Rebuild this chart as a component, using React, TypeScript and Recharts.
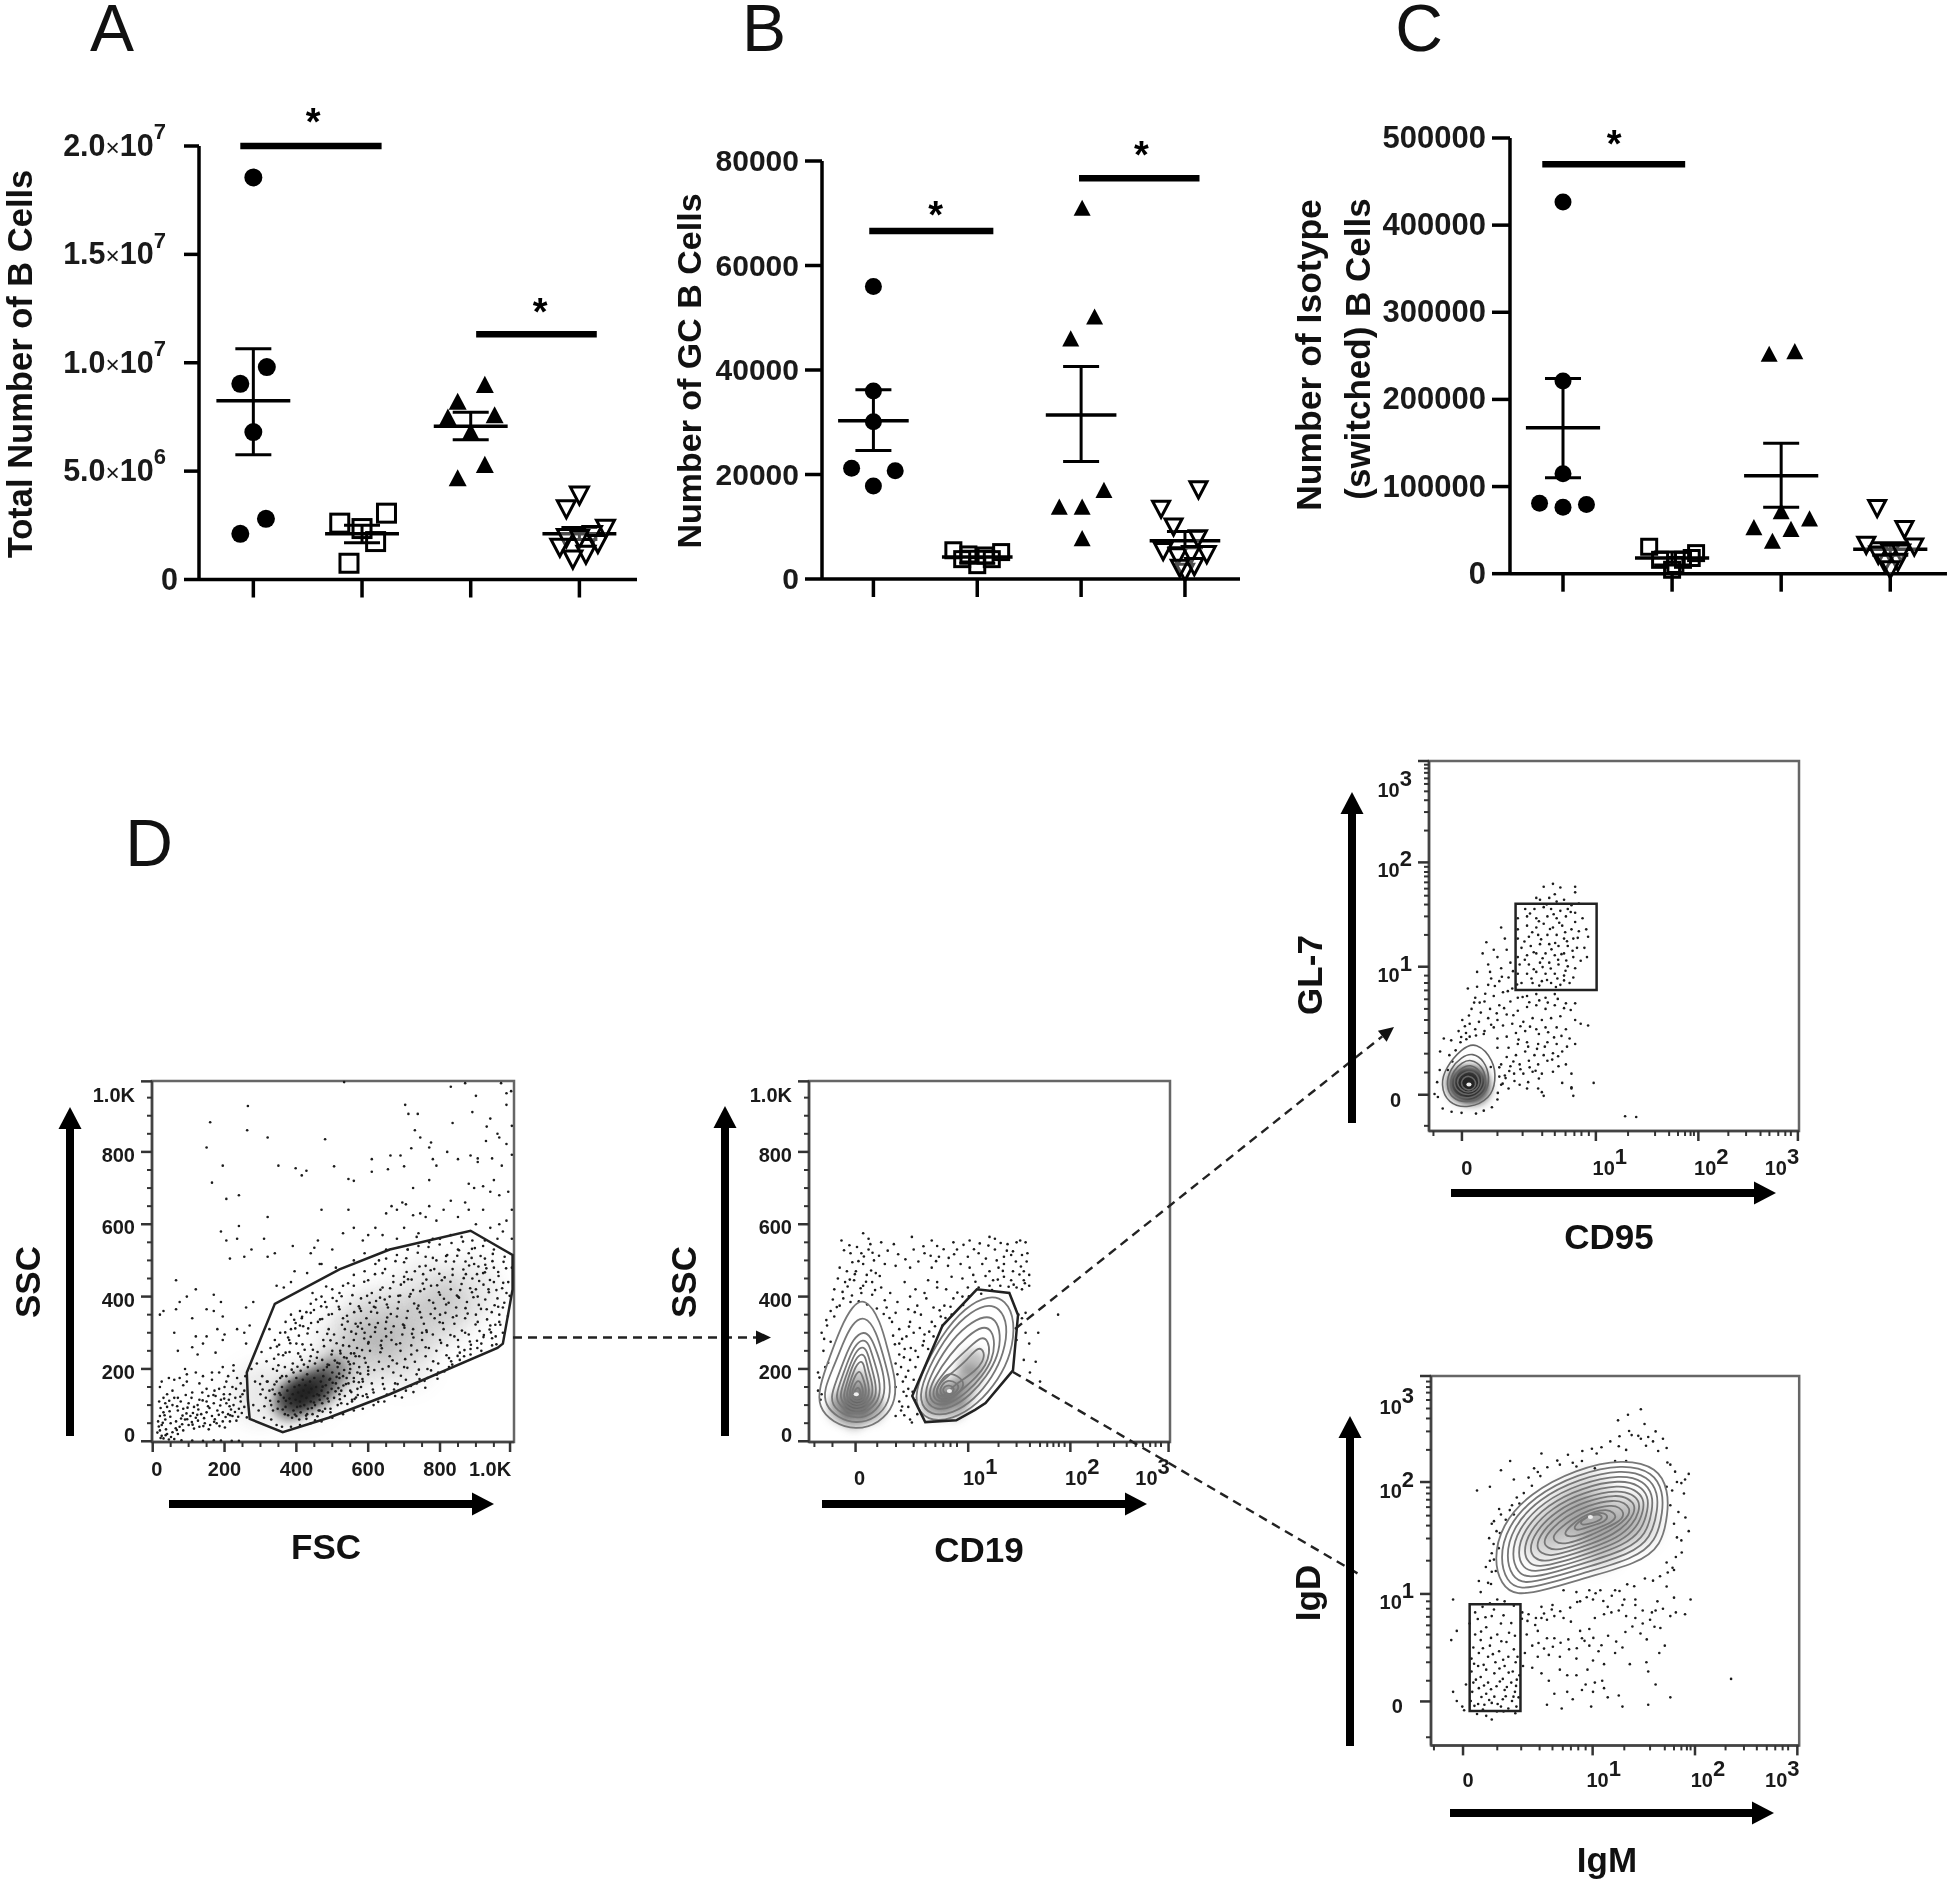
import React from "react";
import {ErrorBar, ReferenceArea, Scatter, ScatterChart, XAxis, YAxis} from "recharts";

const FONT = '"Liberation Sans", Arial, sans-serif';

// panel A values, flat x,y lists
const aCircles = [1, 1.855e7, 1.124, 0.98e7, 0.88, 0.903e7, 1, 0.68e7, 1.116, 0.28e7, 0.88, 0.211e7];
const aSquares = [1.795, 0.26e7, 2, 0.235e7, 2.225, 0.306e7, 2.125, 0.175e7, 1.88, 0.075e7];
const aTriangles = [3.13, 0.894e7, 2.88, 0.816e7, 2.79, 0.743e7, 3.22, 0.754e7, 3, 0.676e7, 3.13, 0.525e7, 2.88, 0.463e7];
const aInverted = [4, 0.393e7, 3.88, 0.33e7, 4.24, 0.24e7, 4.12, 0.211e7, 3.88, 0.197e7, 4, 0.193e7, 3.82, 0.153e7, 4.17, 0.17e7, 4.06, 0.12e7, 3.94, 0.098e7];
const aMeans = [8.25e6, 2.11e6, 7.07e6, 2.11e6];
const aSemDown = [2.5e6, 0.41e6, 0.62e6, 0.27e6];
const aSemUp = [2.4e6, 0.39e6, 0.65e6, 0.29e6];
const aSigBars = [[0.88, 2.18, 2e7], [3.05, 4.16, 1.131e7]];
const aStars = [1.55, 2e7, 3.64, 1.131e7];
const aTicks = [0, 5e6, 1e7, 1.5e7, 2e7];
const aTickLabels = ["0", "5.0×10|6", "1.0×10|7", "1.5×10|7", "2.0×10|7"];

// panel B
const bCircles = [1, 56000, 1, 36000, 1, 30100, 0.79, 21200, 1.21, 20700, 1, 17800];
const bSquares = [1.77, 5500, 1.915, 4700, 2.08, 4500, 2.23, 5150, 1.855, 3800, 2, 2650, 2.14, 3800];
const bTriangles = [3.01, 70800, 3.13, 50000, 2.9, 45800, 3.22, 16800, 2.79, 13600, 3.01, 13600, 3.01, 7570];
const bInverted = [4.13, 17300, 3.77, 13600, 3.89, 10200, 4.125, 7950, 3.79, 5500, 4.21, 4900, 3.93, 4500, 4.06, 4900, 4, 1500, 4.09, 2600, 3.95, 2300];
const bMeans = [30300, 4200, 31400, 7340];
const bSemDown = [5700, 1200, 8900, 1340];
const bSemUp = [5900, 1100, 9250, 1760];
const bSigBars = [[0.96, 2.155, 66600], [2.98, 4.14, 76700]];
const bStars = [1.6, 66600, 3.58, 76700];
const bTicks = [0, 20000, 40000, 60000, 80000];

// panel C
const cCircles = [1, 426500, 1, 221000, 1, 114800, 0.785, 80800, 1, 76200, 1.215, 79400];
const cSquares = [1.79, 30900, 1.89, 15900, 2.03, 10000, 2.1, 15900, 2.22, 23600, 2.18, 18000, 2, 4500];
const cTriangles = [2.89, 250900, 3.125, 254000, 3, 70300, 3.26, 62000, 3.09, 50000, 2.75, 52000, 2.92, 36300];
const cInverted = [3.88, 76200, 4.13, 52000, 3.78, 34000, 4.22, 32000, 3.89, 22700, 4, 25000, 4.1, 25000, 3.95, 13600, 4.07, 14500, 4, 5900];
const cMeans = [167400, 18000, 112500, 28100];
const cSemDown = [57400, 8000, 36300, 6800];
const cSemUp = [56600, 7000, 37200, 7300];
const cSigBars = [[0.81, 2.12, 470000]];
const cStars = [1.47, 470000];
const cTicks = [0, 100000, 200000, 300000, 400000, 500000];

// FSC / SSC dots
const fscSparse = [160,882,265,927,263,860,320,840,150,812,195,762,165,715,350,762,398,755,415,735,428,748,480,835,505,760,533,993,545,725,560,720,610,780,610,745,655,752,662,790,690,790,700,760,712,905,703,930,720,810,730,860,738,905,745,840,770,812,775,826,780,780,790,762,770,722,725,700,850,780,835,880,820,800,870,990,885,790,905,782,880,712,830,980,900,955,890,910,930,870,928,830,945,782,950,722,960,850,970,990,985,962,985,930,965,840,972,762,1000,792,998,968,985,822,1000,872,940,892,905,772,240,680,205,670,470,640,545,640,320,620,190,580,240,595,205,555,235,560,310,560,255,510,215,505,275,530,320,510,390,540,340,520,440,520,460,555,500,530,465,490,450,535,530,575,560,590,585,555,600,570,620,590,640,570,650,630,665,650,680,640,695,660,705,655,725,625,745,630,760,620,770,650,790,610,810,640,830,665,850,620,870,660,880,640,895,700,920,705,940,690,990,690,965,680,920,640,900,600,940,590,985,610,1000,640,965,600,780,560,740,575,700,590,650,530,680,560,710,530,735,565,65,445,75,385,95,400,120,420,170,405,65,365,150,365,170,360,190,385,195,345,20,350,30,360,110,340,60,300,70,250,120,290,125,240,90,200,180,310,195,280,235,310,260,370,280,385,255,300,270,320,260,270,225,210,200,295,150,290,140,270,110,260,175,245,345,430,365,425,385,440,395,470,430,465,470,490,560,500,590,520,510,480,630,500,960,560,925,555,1000,560,975,580];
const fscDebris = [20,150,25,165,40,130,55,140,60,170,70,120,85,155,95,165,110,135,130,160,150,145,165,170,175,125,185,190,195,205,210,180,225,195,235,175,245,160,255,140,200,150,215,130,230,120,245,110,255,95,240,90,225,100,205,105,190,115,170,105,150,110,130,115,115,95,100,105,85,90,70,85,55,100,40,95,30,80,20,70,15,55,25,45,35,60,50,50,65,55,75,40,90,60,105,70,120,65,135,75,150,80,165,70,180,85,195,80,210,75,222,70,238,68,215,55,195,55,178,50,160,45,145,50,130,40,115,35,100,45,85,30,70,20,55,25,40,20,25,15,20,30,30,8,45,5,60,6,80,3,110,2,140,1,170,3,190,2,220,1,240,1,185,145,205,165,165,190,140,180,120,190,95,185,75,175,45,175,30,120,18,110,250,130,232,145,258,180,222,150,212,115,198,130,172,140,155,125,138,135,125,100,108,120,92,128,78,110,60,120,46,112,35,105,22,92,33,72,47,83,68,97,83,71,97,93,112,78,127,88,143,64,158,92,173,61,188,99,203,67,218,88,233,57,248,78,262,66,244,123,229,81,214,97,199,118,184,73,169,128,154,97,139,113,124,73,109,53,94,77,79,63,64,36,49,68,37,33,28,51,17,41,13,24,22,9,36,17,51,12,67,31,82,47,96,61,111,46,126,57,141,42,156,33,171,54,186,42,201,38,216,72];
const fscGate = [280,100,295,85,310,65,330,60,345,45,360,40,300,130,285,165,275,200,290,215,305,180,320,165,335,200,350,240,340,280,325,310,355,300,370,330,385,350,410,360,440,380,470,400,500,420,530,430,560,460,590,470,620,490,650,505,680,515,710,530,740,540,770,550,800,560,830,570,860,565,890,555,920,540,950,530,980,510,1000,480,990,440,985,410,975,370,965,330,955,290,945,265,915,250,885,240,855,225,825,205,795,190,765,175,735,160,705,140,675,125,645,110,615,100,585,90,560,85,530,75,500,65,470,55,440,50,410,45,385,40,400,70,430,75,465,85,495,90,525,105,555,115,585,125,615,135,645,145,675,160,705,170,735,185,765,200,795,215,825,230,855,245,885,255,915,270,945,285,975,300,965,350,940,320,910,305,880,295,850,280,820,265,790,250,760,235,730,220,700,205,670,190,640,175,610,160,580,150,550,140,520,130,540,175,570,190,600,205,630,220,660,235,690,250,720,265,750,280,780,295,810,310,840,325,870,340,900,350,930,365,960,395,935,420,905,400,875,385,845,370,815,355,785,340,755,325,725,310,695,295,665,280,635,265,605,250,575,235,545,220,515,205,500,250,530,265,560,280,590,300,620,315,650,330,680,345,710,360,740,375,770,390,800,405,830,420,860,435,890,450,920,465,950,480,925,505,895,490,865,475,835,460,805,445,775,430,745,415,715,400,685,385,655,370,625,355,595,340,565,325,535,310,505,295,475,280,460,330,490,350,520,365,550,380,580,395,610,410,640,425,670,440,700,455,730,470,760,485,790,500,820,515,850,530,880,520,760,510,700,495,640,465,600,445,560,430,520,410,480,385,440,355,410,320,385,310,445,410,415,340,380,280,400,270,370,245,350,210,360,180,520,175,560,215,600,270,650,290,700,320,750,300,800,350,850,400,900,420,950,440,700,440,660,400,620,370,580,360,530,340,490,310,870,300,905,330,840,290,800,280,760,260,720,240,680,215,640,200,600,185,560,165];
const fscGateExtra = [463,127,487,212,512,271,538,158,553,303,571,128,577,367,593,217,607,289,613,143,622,388,634,246,641,158,648,311,657,207,663,352,672,143,678,268,684,402,691,181,697,323,703,227,711,448,719,153,722,297,728,381,736,251,741,198,748,342,752,436,757,167,763,302,769,258,774,473,781,221,786,367,791,184,797,412,803,272,808,327,813,453,818,238,824,383,829,294,834,212,839,497,846,347,851,261,856,418,861,306,867,235,872,462,877,353,883,276,888,507,893,398,899,323,904,258,909,443,914,366,921,288,926,488,931,337,936,412,942,301,947,518,952,376,957,268,963,457,968,322,973,423,979,383,984,478,989,346,994,402,449,107,473,151,494,173,517,147,533,232,548,189,562,117,569,258,584,172,598,122,603,323,617,197,628,109,637,278,652,129,668,224,682,158,694,121,709,203,726,136,743,172,759,148,775,196,793,173,812,193,831,221,849,236,868,252,886,267,903,278,922,294,938,309,954,322,527,322,541,347,556,404,574,373,589,441,604,383,619,462,633,397,647,476,661,423,676,498,691,433,706,506,721,447,738,521,753,462,768,537,784,476,799,544,816,497,832,548,848,513,864,552,881,486,897,534,913,512,929,478,946,498,962,468,977,496,417,268,431,298,446,253,458,302,472,338,486,297,499,352,512,388,526,401,544,437,381,247,397,312,411,234,428,357,441,327,455,392,469,373,483,428,334,143,317,221,303,247,328,258,346,262,363,238,377,287,394,336,407,292,419,318];
const fscDense = [523,243,547,263,566,297,583,311,601,274,619,302,638,257,653,342,671,318,689,271,707,341,726,287,744,357,762,307,781,383,799,329,817,378,836,343,853,397,871,368,889,412,908,377,926,392,944,357,962,372,514,217,532,287,552,243,571,317,589,284,608,358,627,327,646,392,664,301,682,367,701,314,718,407,737,367,756,421,774,352,792,431,811,394,829,441,847,403,866,451,884,423,903,462,921,433,939,446,957,418,976,438,543,331,561,357,579,327,597,402,616,372,634,419,652,378,670,457,689,403,707,468,725,418,743,483,762,447,780,507,798,463,817,512,835,476,853,528,871,497,889,532,907,483,925,467,405,243,423,253,441,267,459,247,477,263,495,279,338,228,352,267,369,301,383,271,398,327,416,344,433,312,449,363,466,337,484,371,501,396,518,372];
const fscCore = [340,130,350,110,360,150,365,120,370,95,375,140,380,165,385,105,390,130,392,85,395,150,398,115,400,175,402,95,405,135,408,155,410,110,412,80,415,125,418,170,420,140,422,100,425,155,428,120,430,185,432,90,435,135,438,165,440,110,442,145,445,75,448,125,450,175,452,100,455,150,458,130,460,195,462,85,465,115,468,165,470,140,472,105,475,180,478,125,480,90,482,155,485,205,488,135,490,110,492,170,495,80,498,145,500,190,505,120,510,160,515,100,520,215,525,140,530,180,535,125,540,230,545,160,550,200,555,110,560,175,565,235,570,145,575,205,585,165,590,230,595,130,600,195,355,175,345,165,330,100,325,140,315,120,335,85,318,165,348,90,368,75,388,65,408,60,428,62,452,58,372,180,392,190,412,195,432,205,452,215,472,225,498,240,522,250,415,225,440,235,390,215,368,205,346,195,362,88,377,72,353,133,339,157,327,112,311,97,306,143,299,158,387,198,403,206,421,212,437,222,457,231,476,197,491,211,507,223,519,187,533,197,549,213,561,243,578,187,583,252,509,138,521,116,531,154,542,103,553,136,566,121,574,163,512,178,501,162,487,118,473,82,459,69,443,92,427,71,411,97,396,74,381,118,371,112,356,128];
const fscCoreShade = [420,140,440,130,405,125,450,160,390,120,470,150,500,190,380,100];
const fscBandShade = [420,140,520,190,600,240,680,290,760,330,820,360,640,350,760,420,540,280,300,130,880,420,700,230,600,320];
const fscGatePath = [262,190,265,115,270,62,362,25,490,65,660,130,960,258,975,270,1002,420,1002,515,885,582,660,530,520,475,340,380];

// CD19 / SSC dots
const cd19Dots = [90,555,150,575,165,560,170,545,200,550,165,530,145,520,115,520,235,545,285,565,340,555,355,540,400,550,445,555,500,565,515,560,575,550,550,545,585,555,515,530,565,525,600,550,290,530,320,520,360,510,410,530,440,510,470,520,490,505,520,500,540,510,560,515,590,515,605,520,120,495,150,490,180,500,210,490,240,485,280,480,340,480,385,485,420,490,445,480,480,490,500,470,525,480,540,490,565,470,595,470,610,460,85,480,105,470,130,470,160,460,185,465,80,450,100,440,125,445,150,430,175,440,200,425,225,410,265,440,295,420,330,445,355,440,395,455,425,450,455,460,510,445,540,455,560,445,595,445,610,430,590,420,575,425,70,420,95,395,115,385,145,410,175,405,210,390,245,385,280,400,320,410,355,425,380,420,440,425,470,425,500,430,530,430,60,360,85,375,215,370,240,355,275,365,300,375,325,395,345,370,375,375,400,395,425,400,50,320,70,345,230,330,250,310,280,330,310,350,340,330,365,345,395,350,35,300,40,250,60,275,250,270,270,290,290,300,320,295,345,290,370,320,240,215,250,240,265,255,280,225,295,250,315,265,330,255,245,185,255,205,275,195,295,205,25,190,45,205,240,150,260,165,275,145,290,170,250,110,270,125,255,85,275,95,300,75,240,70,280,60,25,140,35,130,32,115,595,225,600,300,690,350,612,190,628,220,640,165,580,350,600,355,590,340,635,300,575,280,610,270];
const cd19Extra = [113,447,127,462,137,498,143,423,158,441,172,472,183,418,196,457,93,413,107,428,119,403,138,387,161,378,188,367,207,352,223,341,233,292,238,268,258,283,277,317,293,357,307,313,318,277,333,303,349,318,362,362,378,341,392,372,411,411,427,377,443,401,461,441,477,408,489,457,507,418,523,447,537,471,553,427,567,433,583,461,598,437,97,528,112,542,133,537,152,511,176,521,194,513,218,527,247,517,267,503,303,497,317,539,337,513,352,498,373,531,387,507,402,517,428,543,457,531,473,547,497,541,531,548,548,527,573,497,587,483,603,497,48,335,66,392,77,371,42,283,53,217,29,176,263,232,282,258,302,233,268,178,287,137,296,113,264,72,285,52,262,137,258,96];
const cd19GatePath = [322,53,286,125,370,320,465,420,555,410,579,349,565,196,489,106,460,87,408,58];
const cd19Shade = [131,125,100,110,162,110,131,90,135,160,90,88,172,88,125,70,389,135,355,118,420,130,350,100,440,175,400,98,455,215];

const cd19LeftContours = [
  [155,398,120,375,88,315,58,235,28,150,26,95,65,52,130,30,195,50,238,100,242,165,220,245,198,335],
  [155,350,118,325,93,268,68,205,42,145,44,100,80,65,130,48,185,63,224,108,226,165,205,238,187,303],
  [152,306,122,284,98,228,76,168,58,120,74,84,130,60,178,75,210,118,210,178,188,248,172,288],
  [150,284,125,264,104,212,86,162,72,120,90,92,130,72,170,86,198,120,196,172,177,232,166,270],
  [148,264,128,247,110,202,94,156,84,122,100,98,130,82,164,94,188,124,184,166,170,216,161,250],
  [147,244,130,230,114,192,102,152,94,122,106,104,130,92,158,101,178,126,175,163,163,201,157,232],
  [145,224,130,210,118,177,108,147,103,124,113,109,131,100,153,107,168,128,165,159,156,189,152,212],
  [140,197,128,182,118,157,112,136,115,118,131,109,149,113,159,130,156,156,148,180],
  [136,172,124,152,118,133,124,120,133,116,147,122,151,136,146,157],
  [134,151,124,136,128,124,136,121,144,130,141,144],
];
const cd19RightContours = [
  [498,404,545,392,572,332,560,240,526,172,468,102,398,60,326,55,290,105,306,177,366,294,434,372],
  [490,380,528,370,552,322,540,243,509,178,458,115,398,76,336,70,303,112,318,175,373,282,434,349],
  [488,348,517,338,532,296,524,235,493,180,447,127,395,92,347,85,317,118,332,175,384,267,439,323],
  [482,320,507,307,515,270,508,225,480,180,439,136,392,104,355,97,328,124,343,170,391,242,440,292],
  [478,292,497,277,501,245,490,210,466,180,426,144,390,115,360,106,339,127,353,165,397,217,442,257],
  [470,264,487,246,482,220,461,195,426,170,396,150,372,120,350,130,360,161,400,192,440,227],
  [385,192,421,176,432,155,411,129,385,113,359,116,350,135,364,166],
  [385,171,411,161,417,145,396,127,375,123,361,135,367,156],
  [388,156,403,148,399,135,382,129,369,138,374,151],
];

// CD95 / GL-7 dots
const gl7Dots = [310,660,335,668,355,658,395,660,340,640,395,645,290,630,300,625,325,630,345,620,365,625,385,610,405,615,260,600,285,600,310,605,330,600,355,595,375,600,395,590,415,575,240,575,265,580,290,575,320,580,345,575,370,580,395,565,425,545,240,545,265,555,290,550,310,560,335,550,360,555,385,545,405,540,430,525,240,520,270,525,295,530,320,530,345,530,365,520,390,520,420,495,250,495,275,500,300,505,325,505,350,500,375,500,400,495,427,470,240,470,265,475,290,480,315,480,340,475,365,480,390,470,410,460,245,450,270,450,300,455,325,455,350,450,375,445,395,440,240,425,265,425,290,430,315,425,340,425,365,420,390,415,250,400,280,400,305,405,330,400,355,395,380,400,155,510,195,550,145,480,175,490,205,520,160,450,185,470,210,490,130,430,165,430,195,440,220,455,105,385,130,390,160,395,190,405,215,415,125,360,150,350,175,365,200,375,225,385,115,330,140,320,165,330,190,340,220,350,240,360,265,365,290,370,315,360,340,370,90,300,110,290,135,295,160,305,185,300,210,315,240,325,265,335,290,340,315,330,340,340,370,345,395,345,80,270,100,265,125,275,150,270,175,280,200,285,225,290,255,295,280,305,305,300,330,305,355,310,395,300,410,290,430,285,60,245,85,240,110,255,185,250,210,255,235,265,260,270,290,275,315,280,345,280,370,275,40,250,30,215,55,205,185,225,215,225,240,235,265,240,295,235,320,240,345,235,380,250,210,200,235,205,260,215,285,205,310,205,335,210,360,215,395,235,195,180,220,175,245,180,270,190,295,180,320,190,350,175,370,180,385,155,205,150,230,155,255,155,280,160,305,155,335,160,360,130,385,118,195,125,215,115,245,125,265,115,295,115,305,105,310,95,385,115,390,95,445,130,530,40,560,38,15,100,185,85];
const gl7Extra = [273,588,297,567,318,612,337,586,352,563,368,537,383,592,279,537,303,518,327,546,341,508,358,478,373,513,402,522,258,512,283,483,307,467,331,491,349,463,371,461,388,487,259,463,283,437,307,443,329,439,347,412,369,433,277,412,298,393,319,408,343,389,365,407,253,362,271,348,298,353,321,347,348,357,365,332,383,327,227,432,238,396,213,378,197,417,178,392,168,412,152,371,137,347,122,347,108,312,97,283,203,332,183,318,168,287,148,262,127,258,228,313,247,283,273,282,297,262,322,267,338,253,358,257,373,228,242,247,268,228,292,222,313,228,333,193,349,202,228,188,247,167,272,172,288,163,297,142,268,132,231,135,217,162,207,143,199,128,167,173,72,218,87,254,101,248,63,188,51,165,29,165,22,132,24,92,37,61,61,52,88,49,127,47,148,55,170,64,186,103,190,147,190,172];
const gl7GatePath = [234,614,453,614,453,381,234,381];
const gl7Shade = [108,126,96,116,120,136,88,132,125,112];
const gl7Contours = [
  [127,242,176,191,181,135,166,88,108,60,50,74,31,126,45,172,89,223],
  [118,212,150,190,165,145,155,100,108,75,62,85,45,125,58,170,88,200],
  [112,195,145,175,155,140,145,105,108,85,70,95,55,125,66,165,90,185],
  [110,180,138,165,146,135,135,108,108,95,78,105,65,128,74,158,92,172],
  [108,165,130,155,138,130,128,112,106,102,85,112,74,130,82,150],
  [108,150,124,140,128,125,118,112,104,110,90,118,86,132,94,145],
];

// IgM / IgD dots
const igdDots = [105,330,120,360,140,375,165,350,190,330,212,305,120,300,150,320,180,300,205,280,225,260,235,240,115,265,135,285,160,270,185,255,210,240,230,225,110,235,130,250,155,240,175,225,200,215,222,200,240,190,110,200,128,215,150,205,172,195,195,180,218,170,115,170,135,185,155,170,178,160,200,150,228,145,112,145,130,155,150,140,172,132,195,125,220,120,238,130,108,120,128,112,145,110,165,115,190,105,210,100,232,105,125,85,150,80,165,70,70,310,55,285,70,120,85,105,60,145,95,165,90,95,160,385,180,395,200,390,225,378,60,395,130,445,135,415,155,440,165,470,165,520,170,545,178,580,190,625,225,625,240,655,220,650,248,360,265,355,285,345,300,345,315,340,335,350,360,345,380,335,405,310,430,315,445,345,470,355,490,360,510,365,530,350,555,345,575,330,595,340,610,365,630,370,650,350,665,360,690,355,705,395,290,310,315,290,335,290,260,300,275,270,255,250,290,240,320,245,250,215,275,210,300,195,320,175,350,240,375,260,395,235,410,290,430,270,455,255,350,205,370,190,395,190,425,205,440,230,470,220,500,250,520,265,540,220,465,175,445,170,420,165,335,140,370,145,410,150,440,145,470,155,510,135,435,105,480,130,520,105,590,110,315,110,355,100,385,125,610,165,650,130,590,200,585,225,620,250,635,270,660,400,600,360,575,365,555,395,525,395,500,420,460,420,430,420,395,415,360,420,300,375,330,380,405,390,440,395,480,375,520,380,555,380,615,390,640,430,660,475,640,495,665,510,680,555,700,580,660,600,650,650,640,700,655,690,680,710,690,720,700,735,650,760,640,805,630,830,610,850,590,835,570,830,545,840,530,800,510,810,530,770,500,770,445,750,410,770,395,755,350,760,300,790,290,740,280,750,265,725,225,720,215,770,190,745,160,700,125,690,185,640,165,600,160,500,580,870,570,910,535,895,508,880,450,790,385,765,815,180];
const igdExtra = [127,342,148,347,171,368,197,352,218,331,136,308,163,291,191,282,228,297,141,263,168,247,196,232,117,221,143,218,186,208,211,197,233,178,122,178,144,162,163,152,187,173,206,158,231,161,137,131,158,123,181,112,203,133,224,132,141,97,179,92,197,92,229,87,118,107,163,437,176,472,149,483,171,503,184,534,158,561,187,575,171,607,203,611,214,637,233,671,252,683,274,703,297,729,316,753,343,771,372,787,411,797,437,803,463,807,487,823,512,837,538,851,563,838,584,811,603,823,617,797,642,766,663,741,668,713,687,682,672,632,691,617,668,563,681,522,656,481,643,468,622,458,603,446,581,452,552,431,533,436,512,418,491,405,468,391,447,412,423,401,397,388,378,373,351,363,328,368,307,357,283,326,262,337,247,343,292,277,307,262,331,267,352,278,373,287,396,263,417,283,441,291,463,271,481,297,503,281,528,307,547,322,569,303,586,287,607,321,623,318];
const igdGatePath = [105,382,243,382,243,93,105,93];
const igdShade = [380,640,430,610,520,620,300,560,560,600,430,680,450,540,350,600,480,570];
const igdContours = [
  [520,776,617,753,644,688,644,632,627,539,559,492,423,455,316,422,229,404,190,436,171,501,190,595,268,683,394,748],
  [520,762,605,740,630,685,630,635,612,550,548,505,425,470,320,438,240,420,205,445,187,505,205,590,280,675,398,735],
  [518,748,592,728,616,682,616,640,598,560,540,518,428,484,328,454,252,436,220,456,203,510,220,588,292,668,402,722],
  [516,734,580,716,602,678,602,640,585,570,532,530,430,498,336,468,264,452,235,468,218,514,235,585,304,660,406,710],
  [514,720,568,704,590,674,590,640,572,580,524,542,432,510,345,482,278,468,250,480,234,518,250,582,316,652,410,698],
  [512,706,556,692,578,668,578,638,560,590,516,552,434,522,354,496,292,482,266,492,250,522,266,580,328,644,414,686],
  [510,692,546,680,566,662,566,634,548,598,508,562,436,534,362,510,306,496,282,506,266,528,282,578,340,636,418,674],
  [506,680,536,668,554,652,552,628,534,602,498,572,438,546,372,524,322,512,300,520,284,536,300,578,352,628,420,662],
  [500,666,526,656,540,642,538,624,520,604,488,582,438,558,382,538,338,528,318,534,304,548,318,578,366,620,424,650],
  [492,652,512,644,524,630,520,614,500,600,474,588,436,570,392,552,354,544,336,552,330,566,348,586,382,612,428,638],
  [478,640,496,630,504,618,490,604,462,592,432,580,400,568,372,564,360,574,380,596,410,618,440,632],
  [470,630,482,620,472,606,448,598,424,590,400,582,386,586,398,604,425,620,448,630],
  [458,626,468,616,452,606,430,600,410,596,404,604,422,618,440,624],
];

const pairs = (flat: number[]) => {
  const out: {x: number, y: number}[] = [];
  for (let i = 0; i < flat.length; i += 2) out.push({x: flat[i], y: flat[i + 1]});
  return out;
};

const fiftyTicks = [0,50,100,150,200,250,300,350,400,450,500,550,600,650,700,750,800,850,900,950,995];
const cd19XTicks = [15,65,129,189,241,290,323,350,372,392,410,441,525,575,612,640,660,677,692,708,724,800,845,880,905,925,945,960,975,996];
const gl7XTicks = [12,89,185,253,306,340,369,393,412,432,451,538,611,649,673,692,707,716,728,809,857,896,920,944,963,978,997];
const gl7YTicks = [14,98,158,209,265,300,330,356,380,400,420,444,530,580,612,636,655,672,688,700,714,726,812,862,894,918,938,953,968,980,990,1000];
const igdXTicks = [8,87,180,245,295,330,358,380,400,420,439,525,595,635,660,680,695,705,717,800,850,885,912,935,955,970,995];
const igdYTicks = [22,119,175,225,265,300,325,348,370,390,410,500,560,595,622,645,665,682,698,713,800,850,885,912,935,955,970,985,1000];

type TickLabel = {text: string, dx: number, dy: number};

const fscYLabels: Record<number, TickLabel> = {0: {text: "0", dx: 0, dy: -6}, 200: {text: "200", dx: 0, dy: 3}, 400: {text: "400", dx: 0, dy: 3}, 600: {text: "600", dx: 0, dy: 3}, 800: {text: "800", dx: 0, dy: 3}, 995: {text: "1.0K", dx: 0, dy: 14}};
const fscXLabels: Record<number, TickLabel> = {0: {text: "0", dx: 4, dy: 0}, 200: {text: "200", dx: 0, dy: 0}, 400: {text: "400", dx: 0, dy: 0}, 600: {text: "600", dx: 0, dy: 0}, 800: {text: "800", dx: 0, dy: 0}, 995: {text: "1.0K", dx: -20, dy: 0}};
const cd19XLabels: Record<number, TickLabel> = {129: {text: "0", dx: 4, dy: 0}, 441: {text: "10|1", dx: 12, dy: 0}, 724: {text: "10|2", dx: 12, dy: 0}, 996: {text: "10|3", dx: -16, dy: 0}};
const gl7XLabels: Record<number, TickLabel> = {89: {text: "0", dx: 5, dy: 0}, 451: {text: "10|1", dx: 14, dy: 0}, 728: {text: "10|2", dx: 13, dy: 0}, 997: {text: "10|3", dx: -16, dy: 0}};
const gl7YLabels: Record<number, TickLabel> = {98: {text: "0", dx: -11, dy: 5}, 444: {text: "10|1", dx: 0, dy: 8}, 726: {text: "10|2", dx: 0, dy: 8}, 1000: {text: "10|3", dx: 0, dy: 29}};
const igdXLabels: Record<number, TickLabel> = {87: {text: "0", dx: 5, dy: 0}, 439: {text: "10|1", dx: 11, dy: 0}, 717: {text: "10|2", dx: 13, dy: 0}, 995: {text: "10|3", dx: -15, dy: 0}};
const igdYLabels: Record<number, TickLabel> = {119: {text: "0", dx: -11, dy: 5}, 410: {text: "10|1", dx: 0, dy: 8}, 713: {text: "10|2", dx: 0, dy: 9}, 1000: {text: "10|3", dx: 0, dy: 31}};

const noShape = () => <g/>;

const LabelText = ({x, y, text, anchor, size, supSize}: any) => {
  const [base, exp] = text.split("|");
  const [mantissa, power] = base.includes("×") ? base.split("×") : [null, base];
  return (
    <text x={x} y={y} textAnchor={anchor} fontFamily={FONT} fontSize={size} fontWeight="bold" fill="#1a1a1a">
      {mantissa}
      {mantissa && <tspan fontWeight="normal" fontSize={size * 0.8}>×</tspan>}
      {power}
      {exp && <tspan dy={-size * 0.55} fontSize={supSize} fontWeight="bold">{exp}</tspan>}
    </text>
  );
};

const renderMarker = (kind: string, size: number) => (p: any) => {
  const {cx, cy} = p;
  const r = size / 2;
  if (kind === "circle") return <circle cx={cx} cy={cy} r={r} fill="#000"/>;
  if (kind === "square") return <rect x={cx - r} y={cy - r} width={size} height={size} fill="none" stroke="#000" strokeWidth={3}/>;
  if (kind === "triangle") return <polygon points={`${cx},${cy - r * 1.1} ${cx + r},${cy + r * 0.8} ${cx - r},${cy + r * 0.8}`} fill="#000"/>;
  return <polygon points={`${cx},${cy + r * 1.1} ${cx + r},${cy - r * 0.8} ${cx - r},${cy - r * 0.8}`} fill="#fff" fillOpacity={0.3} stroke="#000" strokeWidth={3}/>;
};

// the stars sit on their bar's value and are lifted by a few pixels
const starShape = (lifts: number[]) => (p: any) => (
  <text x={p.cx} y={p.cy - lifts[p.index ?? 0] + 19} textAnchor="middle" fontFamily={FONT} fontWeight="bold" fontSize={38} fill="#000">*</text>
);

const DotPanel = ({plot, xDomain, yMax, ticks, tickLabels, circles, squares, triangles, inverted, means, semDown, semUp, sigBars, stars, starLifts, markerSize, squareSize}: any) => {
  const marginTop = 70;
  const xAxisHeight = 40;
  const yAxisWidth = plot.left;
  const summary = means.map((m: number, i: number) => ({x: i + 1, y: m, sem: [semDown[i], semUp[i]], half: 0.34}));
  const yTick = (p: any) => {
    const i = ticks.indexOf(p.payload.value);
    const isZero = p.payload.value === 0;
    return (
      <g>
        <line x1={p.x} x2={p.x - plot.tickLen} y1={p.y} y2={p.y} stroke="#000" strokeWidth={3.5}/>
        <LabelText x={p.x - plot.tickLen - (isZero ? 6 : plot.labelGap)} y={p.y + 10} text={tickLabels ? tickLabels[i] : String(p.payload.value)} anchor="end" size={plot.fontSize} supSize={22}/>
      </g>
    );
  };
  const xTick = (p: any) => <line x1={p.x} x2={p.x} y1={p.y} y2={p.y + 18} stroke="#000" strokeWidth={3.5}/>;
  return (
    <div style={{position: "absolute", left: 0, top: plot.top - marginTop}}>
      <ScatterChart width={plot.left + plot.width + 3} height={plot.height + marginTop + xAxisHeight} margin={{top: marginTop, right: 3, bottom: 0, left: 0}}>
        <XAxis type="number" dataKey="x" domain={xDomain} ticks={[1, 2, 3, 4]} interval={0} height={xAxisHeight} tick={xTick} tickLine={false} tickSize={0} tickMargin={0} axisLine={{stroke: "#000", strokeWidth: 3.5}}/>
        <YAxis type="number" dataKey="y" domain={[0, yMax]} ticks={ticks} interval={0} width={yAxisWidth} tick={yTick} tickLine={false} tickSize={0} tickMargin={0} axisLine={{stroke: "#000", strokeWidth: 3.5}}/>
        <Scatter data={pairs(circles)} isAnimationActive={false} shape={renderMarker("circle", markerSize)}/>
        <Scatter data={pairs(squares)} isAnimationActive={false} shape={renderMarker("square", squareSize)}/>
        <Scatter data={pairs(triangles)} isAnimationActive={false} shape={renderMarker("triangle", markerSize)}/>
        <Scatter data={pairs(inverted)} isAnimationActive={false} shape={renderMarker("inverted", markerSize)}/>
        <Scatter data={summary} isAnimationActive={false} shape={noShape}>
          <ErrorBar dataKey="sem" direction="y" width={18} stroke="#000" strokeWidth={3} isAnimationActive={false}/>
          <ErrorBar dataKey="half" direction="x" width={0} stroke="#000" strokeWidth={3.5} isAnimationActive={false}/>
        </Scatter>
        {sigBars.map((b: number[], i: number) => (
          <Scatter key={i} data={[{x: b[0], y: b[2]}, {x: b[1], y: b[2]}]} isAnimationActive={false} shape={noShape} line={{stroke: "#000", strokeWidth: 6.5}}/>
        ))}
        <Scatter data={pairs(stars)} isAnimationActive={false} shape={starShape(starLifts)}/>
      </ScatterChart>
    </div>
  );
};

const flowDot = (p: any) => <circle cx={p.cx} cy={p.cy} r={1.3} fill="#1c1c1c"/>;
const shadeShape = (r: number, opacity: number, color: string, blur: number) => (p: any) => (
  <circle cx={p.cx} cy={p.cy} r={r} fill={color} fillOpacity={opacity} style={{filter: `blur(${blur}px)`}}/>
);

const FlowPlot = ({box, xDomain, yDomain, xTicks, yTicks, xLabels, yLabels, xLabelGap, dotLists, shades, gate, contourSets, whiteSpots}: any) => {
  const marginTop = 10;
  const marginRight = 40;
  const axisH = 60;
  const axisW = 90;
  const xTick = (p: any) => {
    const l = xLabels[p.payload.value];
    return (
      <g>
        <line x1={p.x} x2={p.x} y1={p.y} y2={p.y + (l ? 10 : 5)} stroke="#333" strokeWidth={l ? 2.5 : 2}/>
        {l && <LabelText x={p.x + l.dx} y={p.y + xLabelGap + 7} text={l.text} anchor="middle" size={20} supSize={22}/>}
      </g>
    );
  };
  const yTick = (p: any) => {
    const l = yLabels[p.payload.value];
    return (
      <g>
        <line x1={p.x} x2={p.x - (l ? 11 : 5)} y1={p.y} y2={p.y} stroke="#333" strokeWidth={l ? 2.5 : 2}/>
        {l && <LabelText x={p.x - 17 + l.dx} y={p.y + 7 + l.dy} text={l.text} anchor="end" size={20} supSize={22}/>}
      </g>
    );
  };
  return (
    <div style={{position: "absolute", left: box.left - axisW, top: box.top - marginTop}}>
      <ScatterChart width={axisW + box.width + marginRight} height={marginTop + box.height + axisH} margin={{top: marginTop, right: marginRight, bottom: 0, left: 0}}>
        <XAxis type="number" dataKey="x" domain={xDomain} ticks={xTicks} interval={0} height={axisH} tick={xTick} tickLine={false} tickSize={0} tickMargin={0} axisLine={{stroke: "#444", strokeWidth: 2.5}}/>
        <YAxis type="number" dataKey="y" domain={yDomain} ticks={yTicks} interval={0} width={axisW} tick={yTick} tickLine={false} tickSize={0} tickMargin={0} axisLine={{stroke: "#444", strokeWidth: 2.5}}/>
        <ReferenceArea x1={xDomain[0]} x2={xDomain[1]} y1={yDomain[0]} y2={yDomain[1]} fill="none" stroke="#666" strokeWidth={2.5}/>
        {shades.map((s: any, i: number) => (
          <Scatter key={i} data={pairs(s.data)} isAnimationActive={false} shape={shadeShape(s.r, s.opacity, s.color, s.blur)}/>
        ))}
        {dotLists.map((d: number[], i: number) => (
          <Scatter key={i} data={pairs(d)} isAnimationActive={false} shape={flowDot}/>
        ))}
        {contourSets.flatMap((c: any, j: number) => c.rings.map((ring: number[], i: number) => (
          <Scatter key={`${j}-${i}`} data={pairs(ring)} isAnimationActive={false} shape={noShape} lineJointType="basisClosed" line={{stroke: c.stroke, strokeWidth: c.width}}/>
        )))}
        {whiteSpots && <Scatter data={pairs(whiteSpots)} isAnimationActive={false} shape={(p: any) => <ellipse cx={p.cx} cy={p.cy} rx={2.6} ry={2} fill="#eee"/>}/>}
        {gate && <Scatter data={pairs(gate)} isAnimationActive={false} shape={noShape} lineJointType="linearClosed" line={{stroke: "#222", strokeWidth: 2.5}}/>}
      </ScatterChart>
    </div>
  );
};

const ThickArrow = ({x1, y1, x2, y2}: any) => {
  const a = Math.atan2(y2 - y1, x2 - x1);
  const bx = x2 - 22 * Math.cos(a);
  const by = y2 - 22 * Math.sin(a);
  const nx = -Math.sin(a) * 11.5;
  const ny = Math.cos(a) * 11.5;
  return (
    <g>
      <line x1={x1} y1={y1} x2={bx} y2={by} stroke="#000" strokeWidth={8}/>
      <polygon points={`${x2},${y2} ${bx + nx},${by + ny} ${bx - nx},${by - ny}`} fill="#000"/>
    </g>
  );
};

const DashedArrow = ({x1, y1, x2, y2, head}: any) => {
  const a = Math.atan2(y2 - y1, x2 - x1);
  const bx = x2 - 15 * Math.cos(a);
  const by = y2 - 15 * Math.sin(a);
  const nx = -Math.sin(a) * 7;
  const ny = Math.cos(a) * 7;
  return (
    <g>
      <line x1={x1} y1={y1} x2={head ? bx : x2} y2={head ? by : y2} stroke="#222" strokeWidth={2.4} strokeDasharray="9 6"/>
      {head && <polygon points={`${x2},${y2} ${bx + nx},${by + ny} ${bx - nx},${by - ny}`} fill="#111"/>}
    </g>
  );
};

const Title = ({x, y, children, size = 31, rotate = false, weight = "bold"}: any) => (
  <text x={x} y={y} textAnchor="middle" dominantBaseline="central" fontFamily={FONT} fontSize={size} fontWeight={weight} fill="#111"
    transform={rotate ? `rotate(-90 ${x} ${y})` : undefined}>{children}</text>
);

const Overlay = () => (
  <svg width={1950} height={1880} style={{position: "absolute", left: 0, top: 0, pointerEvents: "none"}}>
    <Title x={112} y={28} size={66} weight="normal">A</Title>
    <Title x={764} y={28} size={66} weight="normal">B</Title>
    <Title x={1419} y={28} size={66} weight="normal">C</Title>
    <Title x={149} y={843} size={66} weight="normal">D</Title>

    <Title x={20} y={364} size={34.5} rotate>Total Number of B Cells</Title>
    <Title x={689} y={371} size={34} rotate>Number of GC B Cells</Title>
    <Title x={1309} y={355} size={35.5} rotate>Number of Isotype</Title>
    <Title x={1357} y={349} size={35} rotate>(switched) B Cells</Title>

    <DashedArrow x1={513} y1={1337.5} x2={771} y2={1337.5} head/>
    <DashedArrow x1={1015} y1={1329} x2={1394} y2={1027} head/>
    <DashedArrow x1={1013} y1={1372} x2={1362} y2={1576}/>

    <ThickArrow x1={70} y1={1436} x2={70} y2={1107}/>
    <ThickArrow x1={169} y1={1504} x2={494} y2={1504}/>
    <ThickArrow x1={725} y1={1436} x2={725} y2={1106}/>
    <ThickArrow x1={822} y1={1504} x2={1147} y2={1504}/>
    <ThickArrow x1={1352} y1={1123} x2={1352} y2={792}/>
    <ThickArrow x1={1451} y1={1193} x2={1776} y2={1193}/>
    <ThickArrow x1={1350} y1={1746} x2={1350} y2={1416}/>
    <ThickArrow x1={1450} y1={1813} x2={1774} y2={1813}/>

    <Title x={27} y={1282} size={35} rotate>SSC</Title>
    <Title x={326} y={1546} size={35}>FSC</Title>
    <Title x={683} y={1282} size={35} rotate>SSC</Title>
    <Title x={979} y={1549} size={35}>CD19</Title>
    <Title x={1309} y={975} size={35} rotate>GL-7</Title>
    <Title x={1609} y={1236} size={35}>CD95</Title>
    <Title x={1307} y={1593} size={35} rotate>IgD</Title>
    <Title x={1607} y={1859} size={35}>IgM</Title>
  </svg>
);

const App = () => (
  <div style={{position: "absolute", left: 0, top: 0, width: 1950, height: 1880, background: "#fff", overflow: "hidden", filter: "blur(0.6px)"}}>
    <DotPanel plot={{left: 199, top: 145.5, width: 438, height: 433.5, tickLen: 15, fontSize: 30.5, labelGap: 18}} xDomain={[0.5, 4.53]} yMax={2e7} ticks={aTicks} tickLabels={aTickLabels}
      circles={aCircles} squares={aSquares} triangles={aTriangles} inverted={aInverted} means={aMeans} semDown={aSemDown} semUp={aSemUp} sigBars={aSigBars} stars={aStars} starLifts={[30, 28]} markerSize={18} squareSize={18}/>
    <DotPanel plot={{left: 822, top: 161.3, width: 418, height: 418, tickLen: 17, fontSize: 30, labelGap: 6}} xDomain={[0.505, 4.53]} yMax={80000} ticks={bTicks}
      circles={bCircles} squares={bSquares} triangles={bTriangles} inverted={bInverted} means={bMeans} semDown={bSemDown} semUp={bSemUp} sigBars={bSigBars} stars={bStars} starLifts={[22, 29]} markerSize={17} squareSize={15}/>
    <DotPanel plot={{left: 1510, top: 137.6, width: 437, height: 435.7, tickLen: 18, fontSize: 31, labelGap: 6}} xDomain={[0.514, 4.52]} yMax={500000} ticks={cTicks}
      circles={cCircles} squares={cSquares} triangles={cTriangles} inverted={cInverted} means={cMeans} semDown={cSemDown} semUp={cSemUp} sigBars={cSigBars} stars={cStars} starLifts={[26]} markerSize={17} squareSize={15}/>

    <FlowPlot box={{left: 152, top: 1081, width: 362, height: 361}} xDomain={[-2, 1006]} yDomain={[-2, 996]} xTicks={fiftyTicks} yTicks={fiftyTicks} xLabels={fscXLabels} yLabels={fscYLabels} xLabelGap={27}
      shades={[{data: fscBandShade, r: 30, opacity: 0.12, color: "#555", blur: 10}, {data: fscCoreShade, r: 16, opacity: 0.42, color: "#111", blur: 6}]}
      dotLists={[fscSparse, fscDebris, fscGate, fscGateExtra, fscDense, fscCore]} gate={fscGatePath} contourSets={[]}/>
    <FlowPlot box={{left: 809, top: 1081, width: 361, height: 361}} xDomain={[0, 1000]} yDomain={[-2, 996]} xTicks={cd19XTicks} yTicks={fiftyTicks} xLabels={cd19XLabels} yLabels={fscYLabels} xLabelGap={36}
      shades={[{data: cd19Shade, r: 14, opacity: 0.33, color: "#444", blur: 4}]}
      dotLists={[cd19Dots, cd19Extra]} gate={cd19GatePath} whiteSpots={[131, 130, 389, 139]}
      contourSets={[{rings: cd19LeftContours, stroke: "#777", width: 1.8}, {rings: cd19RightContours, stroke: "#777", width: 1.8}]}/>
    <FlowPlot box={{left: 1429, top: 761, width: 370, height: 370}} xDomain={[0, 1000]} yDomain={[0, 1000]} xTicks={gl7XTicks} yTicks={gl7YTicks} xLabels={gl7XLabels} yLabels={gl7YLabels} xLabelGap={37}
      shades={[{data: gl7Shade, r: 15, opacity: 0.6, color: "#222", blur: 4}]}
      dotLists={[gl7Dots, gl7Extra]} gate={gl7GatePath} whiteSpots={[108, 126]}
      contourSets={[{rings: gl7Contours, stroke: "#666", width: 1.6}]}/>
    <FlowPlot box={{left: 1431.4, top: 1376.2, width: 368.2, height: 369.4}} xDomain={[0, 1000]} yDomain={[0, 1000]} xTicks={igdXTicks} yTicks={igdYTicks} xLabels={igdXLabels} yLabels={igdYLabels} xLabelGap={35}
      shades={[{data: igdShade, r: 22, opacity: 0.22, color: "#444", blur: 8}]}
      dotLists={[igdDots, igdExtra]} gate={igdGatePath} whiteSpots={[433, 618]}
      contourSets={[{rings: igdContours, stroke: "#777", width: 1.8}]}/>
    <Overlay/>
  </div>
);

export default App;
